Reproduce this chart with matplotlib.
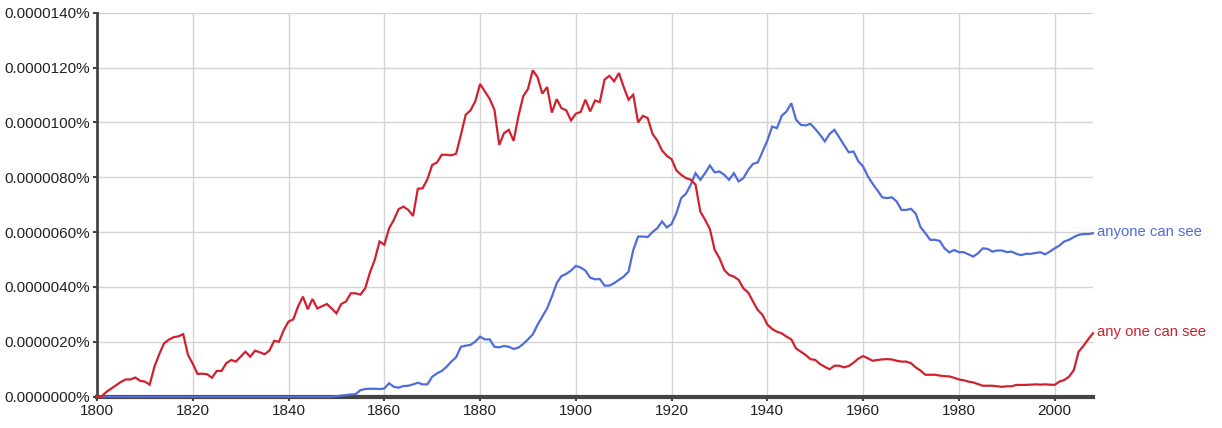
import numpy as np
import matplotlib.pyplot as plt

plt.rcParams['font.family'] = ['Liberation Sans', 'DejaVu Sans']

# values in units of 0.0000001 %
years = np.arange(1800, 2009)

any_one_can_see = [
    0, 0.2, 1.8, 3.0, 4.2, 5.4, 6.3, 6.3, 7.0, 5.8,
    5.5, 4.4, 11.0, 15.5, 19.5, 20.8, 21.7, 22.0, 22.8, 15.2,
    12.0, 8.3, 8.4, 8.2, 6.9, 9.4, 9.4, 12.2, 13.4, 12.8,
    14.6, 16.4, 14.6, 16.8, 16.2, 15.5, 16.8, 20.4, 20.0, 24.3,
    27.4, 28.2, 33.0, 36.5, 31.9, 35.6, 32.2, 33.0, 33.8, 32.2,
    30.4, 33.8, 34.7, 37.7, 37.7, 37.2, 39.5, 45.3, 49.9, 56.6,
    55.4, 61.4, 64.5, 68.4, 69.3, 68.1, 65.9, 75.8, 76.0, 79.3,
    84.5, 85.4, 88.2, 88.2, 88.0, 88.6, 95.5, 102.8, 104.4, 107.7,
    114.0, 111.3, 108.6, 104.6, 91.8, 96.1, 97.3, 93.3, 102.2, 109.5,
    112.2, 119.0, 116.5, 110.5, 112.9, 103.6, 108.5, 105.2, 104.4, 100.7,
    103.2, 103.8, 108.3, 104.0, 108.0, 107.4, 115.6, 117.0, 115.0, 118.0,
    112.9, 108.3, 110.1, 100.0, 102.4, 101.6, 95.9, 93.4, 89.8, 87.8,
    86.6, 82.5, 80.9, 79.7, 79.1, 77.3, 67.5, 64.5, 61.1, 53.5,
    50.5, 46.2, 44.4, 43.8, 42.6, 39.5, 38.0, 34.7, 31.6, 29.8,
    26.3, 24.7, 23.7, 23.1, 21.9, 20.9, 17.6, 16.4, 15.2, 13.7,
    13.4, 11.9, 10.9, 10.0, 11.3, 11.3, 10.7, 11.2, 12.4, 13.9,
    14.8, 14.0, 13.1, 13.4, 13.6, 13.7, 13.6, 13.1, 12.8, 12.8,
    12.2, 10.7, 9.5, 8.0, 8.0, 8.0, 7.7, 7.5, 7.4, 6.9,
    6.3, 6.0, 5.5, 5.2, 4.6, 4.0, 4.0, 4.0, 3.8, 3.6,
    3.8, 3.8, 4.3, 4.3, 4.3, 4.4, 4.5, 4.4, 4.5, 4.4,
    4.3, 5.5, 6.1, 7.3, 9.7, 16.4, 18.5, 20.9, 23.1,
]

anyone_can_see = [
    0, 0, 0, 0, 0, 0, 0, 0, 0, 0,
    0, 0, 0, 0, 0, 0, 0, 0, 0, 0,
    0, 0, 0, 0, 0, 0, 0, 0, 0, 0,
    0, 0, 0, 0, 0, 0, 0, 0, 0, 0,
    0, 0, 0, 0, 0, 0, 0, 0, 0, 0,
    0.2, 0.4, 0.6, 0.8, 0.9, 2.4, 2.8, 2.9, 2.9, 2.8,
    3.0, 4.9, 3.6, 3.3, 3.9, 4.0, 4.5, 5.1, 4.5, 4.5,
    7.3, 8.5, 9.4, 10.9, 12.8, 14.4, 18.2, 18.6, 18.9, 20.1,
    21.9, 20.9, 20.9, 18.2, 18.0, 18.5, 18.2, 17.4, 17.9, 19.2,
    20.9, 22.7, 26.2, 29.2, 32.2, 36.5, 41.4, 44.0, 44.8, 46.0,
    47.7, 47.1, 46.0, 43.4, 42.8, 42.9, 40.5, 40.5, 41.4, 42.6,
    43.8, 45.6, 53.5, 58.4, 58.4, 58.2, 60.0, 61.4, 63.9, 61.7,
    63.0, 66.9, 72.4, 74.0, 77.3, 81.5, 79.1, 81.5, 84.3, 81.8,
    82.1, 80.9, 79.1, 81.5, 78.5, 79.7, 82.7, 84.9, 85.4, 89.4,
    93.4, 98.5, 97.9, 102.4, 104.0, 107.0, 101.0, 99.1, 98.9, 99.5,
    97.6, 95.5, 93.1, 95.8, 97.3, 94.6, 91.8, 89.1, 89.4, 85.8,
    83.9, 80.3, 77.6, 75.2, 72.7, 72.4, 72.7, 71.2, 68.1, 68.1,
    68.5, 66.7, 61.8, 59.6, 57.2, 57.2, 56.8, 54.1, 52.6, 53.5,
    52.7, 52.7, 51.9, 51.1, 52.3, 54.1, 53.9, 52.9, 53.3, 53.3,
    52.7, 52.9, 52.1, 51.6, 52.1, 52.1, 52.4, 52.7, 51.9, 52.9,
    54.1, 55.1, 56.6, 57.2, 58.2, 59.0, 59.3, 59.3, 59.6,
]

series = [
    ('anyone can see', anyone_can_see, '#4f6cdb'),
    ('any one can see', any_one_can_see, '#d0212e'),
]

fig = plt.figure(figsize=(12.22, 4.28), dpi=100)
ax = fig.add_axes([0.0794, 0.0731, 0.815, 0.8972])

for label, vals, col in series:
    ax.plot(years, vals, color=col, lw=1.6, solid_joinstyle='miter', zorder=5, clip_on=False)
    ax.annotate(label, (years[-1], vals[-1]), xytext=(3, 1), textcoords='offset points',
                color=col, fontsize=10.7, va='center', ha='left', annotation_clip=False)

ax.set_xlim(1800, 2008)
ax.set_ylim(0, 140)
ax.set_xticks(np.arange(1800, 2001, 20))
yt = np.arange(0, 141, 20)
ax.set_yticks(yt)
ax.set_yticklabels([f"{v / 1e7:.7f}%" for v in yt])

ax.grid(True, color='#d4d4d4', lw=1)
ax.set_axisbelow(True)
for s in ['top', 'right']:
    ax.spines[s].set_visible(False)
ax.spines['left'].set_color('#444444')
ax.spines['left'].set_linewidth(2)
ax.spines['bottom'].set_color('#444444')
ax.spines['bottom'].set_linewidth(3)
ax.spines['bottom'].set_zorder(4)
ax.tick_params(colors='#444444', labelcolor='#222222', labelsize=11, length=3, width=1.5, pad=2)

fig.savefig('out.png', dpi=100, facecolor='white')
